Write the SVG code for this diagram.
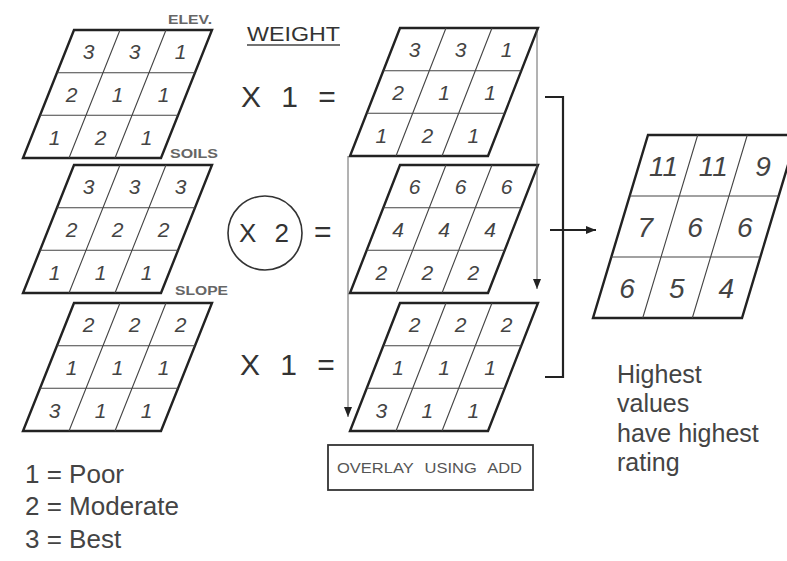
<svg xmlns="http://www.w3.org/2000/svg" width="787" height="561" viewBox="0 0 787 561">
<defs>
<style>
.frame{fill:none;stroke:#222;stroke-width:2.4;stroke-linejoin:miter}
.div{fill:none;stroke:#444;stroke-width:1.1}
.num{font-family:"Liberation Sans",Arial,sans-serif;font-style:italic;font-size:21px;fill:#444;text-anchor:middle}
.big{font-size:28px}
.lbl{font-family:"Liberation Sans",Arial,sans-serif;font-size:12px;font-weight:bold;fill:#666}
.op{font-family:"Liberation Sans",Arial,sans-serif;font-size:30px;fill:#333}
.txt{font-family:"Liberation Sans",Arial,sans-serif;font-size:25px;fill:#444}
.thin{fill:none;stroke:#555;stroke-width:0.9}
.heavy{fill:none;stroke:#222;stroke-width:2.2}
</style>
<marker id="tri" viewBox="0 0 10 10" refX="10" refY="5" markerWidth="10" markerHeight="10" markerUnits="userSpaceOnUse" orient="auto">
<path d="M0,1 L10,5 L0,9 Z" fill="#222"/>
</marker>
</defs>
<rect width="787" height="561" fill="#fff"/>

<g id="grid-elev">
<path class="frame" d="M74,30 H212 L161,158 H23 Z"/>
<path class="div" d="M57,72.7 H195 M40,115.3 H178 M120,30 L69,158 M166,30 L115,158"/>
<text class="num" x="88.5" y="59">3</text><text class="num" x="134.5" y="59">3</text><text class="num" x="180.5" y="59">1</text>
<text class="num" x="71.5" y="102">2</text><text class="num" x="117.5" y="102">1</text><text class="num" x="163.5" y="102">1</text>
<text class="num" x="54.5" y="145">1</text><text class="num" x="100.5" y="145">2</text><text class="num" x="146.5" y="145">1</text>
<text class="lbl" x="168" y="24" textLength="44" lengthAdjust="spacingAndGlyphs">ELEV.</text>
</g>

<g id="grid-soils">
<path class="frame" d="M74,165 H212 L161,293 H23 Z"/>
<path class="div" d="M57,207.7 H195 M40,250.3 H178 M120,165 L69,293 M166,165 L115,293"/>
<text class="num" x="88.5" y="194">3</text><text class="num" x="134.5" y="194">3</text><text class="num" x="180.5" y="194">3</text>
<text class="num" x="71.5" y="237">2</text><text class="num" x="117.5" y="237">2</text><text class="num" x="163.5" y="237">2</text>
<text class="num" x="54.5" y="280">1</text><text class="num" x="100.5" y="280">1</text><text class="num" x="146.5" y="280">1</text>
<text class="lbl" x="170" y="158" textLength="48" lengthAdjust="spacingAndGlyphs">SOILS</text>
</g>

<g id="grid-slope">
<path class="frame" d="M74,303 H212 L161,431 H23 Z"/>
<path class="div" d="M57,345.7 H195 M40,388.3 H178 M120,303 L69,431 M166,303 L115,431"/>
<text class="num" x="88.5" y="332">2</text><text class="num" x="134.5" y="332">2</text><text class="num" x="180.5" y="332">2</text>
<text class="num" x="71.5" y="375">1</text><text class="num" x="117.5" y="375">1</text><text class="num" x="163.5" y="375">1</text>
<text class="num" x="54.5" y="418">3</text><text class="num" x="100.5" y="418">1</text><text class="num" x="146.5" y="418">1</text>
<text class="lbl" x="175" y="295" textLength="53" lengthAdjust="spacingAndGlyphs">SLOPE</text>
</g>

<g id="legend">
<text class="txt" x="25" y="483" style="font-size:26px">1 = Poor</text>
<text class="txt" x="25" y="515" style="font-size:26px">2 = Moderate</text>
<text class="txt" x="25" y="548" style="font-size:26px">3 = Best</text>
</g>

<g id="weights">
<text class="op" x="247" y="41" style="font-size:21px" textLength="93" lengthAdjust="spacingAndGlyphs">WEIGHT</text>
<line x1="247" y1="45" x2="340" y2="45" stroke="#444" stroke-width="1.5"/>
<text class="op" x="241" y="107" style="word-spacing:12px">X 1 =</text>
<circle cx="265" cy="233" r="37" fill="none" stroke="#333" stroke-width="1.6"/>
<text class="op" x="239" y="242" style="font-size:26px;word-spacing:11px">X 2</text>
<text class="op" x="314" y="242">=</text>
<text class="op" x="240" y="375" style="word-spacing:12px">X 1 =</text>
</g>

<g id="grid-elev-w">
<path class="frame" d="M400,28 H538 L488,156 H350 Z"/>
<path class="div" d="M383.3,70.7 H521.3 M366.7,113.3 H504.7 M446,28 L396,156 M492,28 L442,156"/>
<text class="num" x="414.7" y="57">3</text><text class="num" x="460.7" y="57">3</text><text class="num" x="506.7" y="57">1</text>
<text class="num" x="398" y="100">2</text><text class="num" x="444" y="100">1</text><text class="num" x="490" y="100">1</text>
<text class="num" x="381.3" y="143">1</text><text class="num" x="427.3" y="143">2</text><text class="num" x="473.3" y="143">1</text>
</g>

<g id="grid-soils-w">
<path class="frame" d="M400,165 H538 L488,293 H350 Z"/>
<path class="div" d="M383.3,207.7 H521.3 M366.7,250.3 H504.7 M446,165 L396,293 M492,165 L442,293"/>
<text class="num" x="414.7" y="194">6</text><text class="num" x="460.7" y="194">6</text><text class="num" x="506.7" y="194">6</text>
<text class="num" x="398" y="237">4</text><text class="num" x="444" y="237">4</text><text class="num" x="490" y="237">4</text>
<text class="num" x="381.3" y="280">2</text><text class="num" x="427.3" y="280">2</text><text class="num" x="473.3" y="280">2</text>
</g>

<g id="grid-slope-w">
<path class="frame" d="M400,303 H538 L488,431 H350 Z"/>
<path class="div" d="M383.3,345.7 H521.3 M366.7,388.3 H504.7 M446,303 L396,431 M492,303 L442,431"/>
<text class="num" x="414.7" y="332">2</text><text class="num" x="460.7" y="332">2</text><text class="num" x="506.7" y="332">2</text>
<text class="num" x="398" y="375">1</text><text class="num" x="444" y="375">1</text><text class="num" x="490" y="375">1</text>
<text class="num" x="381.3" y="418">3</text><text class="num" x="427.3" y="418">1</text><text class="num" x="473.3" y="418">1</text>
</g>

<g id="overlay-box">
<rect x="328" y="445" width="205" height="45" fill="none" stroke="#333" stroke-width="1.8"/>
<text class="op" x="337" y="473" style="font-size:15px;fill:#555;word-spacing:6px" textLength="185" lengthAdjust="spacingAndGlyphs">OVERLAY USING ADD</text>
</g>

<g id="grid-result">
<path class="frame" d="M648,135 H797 L742,318 H593 Z"/>
<path class="div" d="M629.7,196 H778.7 M611.3,257 H760.3 M697.7,135 L642.7,318 M747.3,135 L692.3,318"/>
<text class="num big" x="663.6" y="176">11</text><text class="num big" x="713.3" y="176">11</text><text class="num big" x="763" y="176">9</text>
<text class="num big" x="645.3" y="237">7</text><text class="num big" x="695" y="237">6</text><text class="num big" x="744.7" y="237">6</text>
<text class="num big" x="627" y="298">6</text><text class="num big" x="676.7" y="298">5</text><text class="num big" x="726.4" y="298">4</text>
</g>

<g id="note">
<text class="txt" x="617" y="383">Highest</text>
<text class="txt" x="617" y="412">values</text>
<text class="txt" x="617" y="442">have highest</text>
<text class="txt" x="617" y="471">rating</text>
</g>

<g id="connectors">
<path class="thin" d="M537,30 V289" marker-end="url(#tri)"/>
<path class="thin" d="M348,156 V417" marker-end="url(#tri)"/>
<path class="heavy" d="M545,97 H563 V377 H545"/>
<path d="M550,230 H596" fill="none" stroke="#222" stroke-width="1.8" marker-end="url(#tri)"/>
</g>
</svg>
